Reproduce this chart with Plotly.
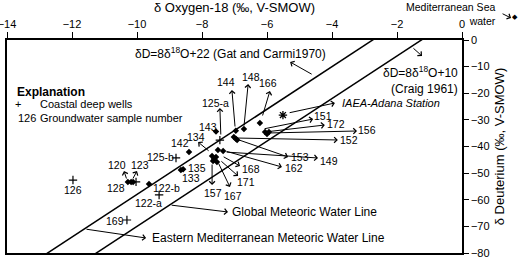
import plotly.graph_objects as go

FONT = "Liberation Sans, Arial, sans-serif"

# ---- data ----
# Groundwater samples (filled diamonds)
gw_d18o = [-7.57, -6.96, -6.71, -6.22, -7.02, -6.95, -6.92, -6.06, -5.94, -6.00,
           -8.40, -7.51, -7.35, -7.69, -7.63, -7.57, -7.66, -7.54, -8.58, -8.65,
           -10.28, -10.18, -10.12, -9.63]
gw_dD = [-34.4, -34.1, -33.4, -31.2, -36.4, -37.2, -37.6, -34.6, -34.6, -35.3,
         -42.1, -41.3, -41.7, -43.6, -44.7, -43.9, -45.4, -45.8, -48.5, -48.8,
         -53.3, -53.3, -53.3, -54.1]
# Coastal deep wells (+)
cw_d18o = [-7.45, -8.80, -11.97, -10.03, -9.32, -10.31]
cw_dD = [-37.6, -44.3, -52.6, -53.3, -58.2, -67.6]
# IAEA-Adana station (*)
iaea_d18o = [-5.51]
iaea_dD = [-28.2]
# Mediterranean Sea water (lies outside the plotted range)
sea_d18o = [1.63]
sea_dD = [8.6]

# Meteoric water lines: dD = slope * d18O + intercept
mwl_slope = 8
gmwl_intercept = 10
emmwl_intercept = 22
line_x = [-14, 0]

X_RANGE = [-14, 0]
Y_RANGE = [-80, 0]
x_ticks = [-14, -12, -10, -8, -6, -4, -2, 0]
y_ticks = [0, -10, -20, -30, -40, -50, -60, -70, -80]

# Sample labels with arrows: label, head x/y, tail x/y, label x/y
arrow_labels = [
    ("144", -7.08, -18.78, -6.98, -33.05, -7.26, -15.77),
    ("148", -6.58, -16.53, -6.71, -32.68, -6.49, -13.90),
    ("166", -5.91, -19.15, -6.15, -28.92, -5.97, -16.15),
    ("125-a", -7.45, -25.54, -7.42, -36.06, -7.57, -23.66),
    ("134", -8.12, -38.31, -7.75, -42.07, -8.18, -36.43),
    ("120", -10.40, -49.20, -10.31, -52.58, -10.62, -46.95),
    ("123", -10.00, -49.20, -10.15, -52.58, -9.91, -46.95),
    ("157", -7.69, -54.46, -7.69, -46.20, -7.66, -57.46),
    ("167", -7.14, -55.21, -7.51, -45.82, -7.05, -58.59),
    ("171", -6.89, -51.08, -7.45, -45.07, -6.65, -53.33),
    ("168", -6.83, -47.32, -7.38, -43.57, -6.49, -48.45),
    ("153", -5.35, -43.94, -6.95, -37.18, -4.98, -43.94),
    ("162", -5.54, -47.70, -7.29, -41.69, -5.17, -48.08),
    ("149", -4.43, -44.32, -7.29, -42.07, -4.09, -45.45),
    ("152", -3.82, -37.56, -6.95, -36.81, -3.48, -37.56),
    ("156", -3.23, -34.18, -5.97, -34.93, -2.92, -33.80),
    ("172", -4.22, -31.92, -6.06, -34.55, -3.88, -31.55),
    ("151", -4.58, -29.67, -6.12, -33.43, -4.28, -28.54),
]
plain_labels = [
    ("143", -7.82, -32.68), ("142", -8.68, -38.69), ("125-b", -9.29, -43.94),
    ("135", -8.15, -48.08), ("133", -8.34, -51.83), ("126", -11.97, -56.34),
    ("128", -10.65, -55.59), ("122-b", -9.08, -55.59), ("122-a", -9.66, -61.22),
    ("169", -10.68, -67.98),
]


def to_paper(x, y):
    return ((x - X_RANGE[0]) / (X_RANGE[1] - X_RANGE[0]),
            (y - Y_RANGE[0]) / (Y_RANGE[1] - Y_RANGE[0]))


fig = go.Figure()
fig.add_trace(go.Scatter(x=line_x, y=[mwl_slope * v + emmwl_intercept for v in line_x],
                         mode="lines", line=dict(color="black", width=1.5), showlegend=False))
fig.add_trace(go.Scatter(x=line_x, y=[mwl_slope * v + gmwl_intercept for v in line_x],
                         mode="lines", line=dict(color="black", width=1.5), showlegend=False))
fig.add_trace(go.Scatter(x=gw_d18o, y=gw_dD, mode="markers",
                         marker=dict(symbol="diamond", size=5, color="black"), showlegend=False))
fig.add_trace(go.Scatter(x=cw_d18o, y=cw_dD, mode="markers",
                         marker=dict(symbol="cross-thin", size=6, color="black",
                                     line=dict(color="black", width=1.2)),
                         showlegend=False))
fig.add_trace(go.Scatter(x=iaea_d18o, y=iaea_dD, mode="markers",
                         marker=dict(symbol="asterisk-open", size=7, color="black",
                                     line=dict(color="black", width=1.3)),
                         showlegend=False))

ann = []
def arrow(hx, hy, tx, ty):
    ann.append(dict(x=hx, y=hy, ax=tx, ay=ty, xref="x", yref="y", axref="x", ayref="y",
                    text="", showarrow=True, arrowhead=4, arrowsize=1.1, arrowwidth=1,
                    arrowcolor="black", standoff=0, startstandoff=0))

def label(txt, x, y, size=10.5, xanchor="center", **kw):
    ann.append(dict(x=x, y=y, xref="x", yref="y", text=txt, showarrow=False,
                    xanchor=xanchor, yanchor="middle", font=dict(family=FONT, size=size, color="black"), **kw))

for name, hx, hy, tx, ty, lx, ly in arrow_labels:
    arrow(hx, hy, tx, ty)
    label(name, lx, ly)
for name, lx, ly in plain_labels:
    label(name, lx, ly)

# IAEA
arrow(-3.91, -23.66, -5.35, -27.42)
ann.append(dict(x=-3.75, y=-23.66, xref="x", yref="y", text="<i>IAEA-Adana Station</i>", showarrow=False,
                xanchor="left", yanchor="middle", font=dict(family=FONT, size=11, color="black")))

# equations and line names
label("δD=8δ<sup>18</sup>O+22 (Gat and Carmi1970)", -7.11, -4.88, size=12)
arrow(-5.29, -8.26, -4.58, -13.15)
label("δD=8δ<sup>18</sup>O+10<br>(Craig 1961)", -0.06, -15.02, size=12, xanchor="right", align="right")
arrow(-1.23, -6.01, -1.54, -2.63)
label("Global Meteoric Water Line", -7.14, -64.60, size=12, xanchor="left")
arrow(-7.20, -64.60, -8.98, -61.97)
label("Eastern Mediterranean Meteoric Water Line", -9.60, -74.37, size=12, xanchor="left")
arrow(-9.72, -74.37, -11.60, -70.99)

# explanation
label("<b>Explanation</b>", -13.75, -19.53, size=12, xanchor="left")
label("+", -13.66, -24.04, size=11)
label("Coastal deep wells", -13.05, -24.04, size=11, xanchor="left")
label("126", -13.72, -29.30, size=11, xanchor="left")
label("Groundwater sample number", -13.05, -29.30, size=11, xanchor="left")

# Mediterranean sea water: outside the axis range, so placed in paper coordinates
for sx, sy in zip(sea_d18o, sea_dD):
    px, py = to_paper(sx, sy)
    ann.append(dict(x=px, y=py, xref="paper", yref="paper", text="◆", showarrow=False,
                    xanchor="center", yanchor="middle",
                    font=dict(family="DejaVu Sans", size=7, color="black")))
mx, my = to_paper(1.11, 9.9)
ann.append(dict(x=mx, y=my, xref="paper", yref="paper", text="Mediterranean Sea<br>water",
                showarrow=False, xanchor="right", yanchor="middle", align="right",
                font=dict(family=FONT, size=10.5, color="black")))
hx, hy = to_paper(1.51, 8.26)
ann.append(dict(x=hx, y=hy, xref="paper", yref="paper", text="", showarrow=True,
                ax=-10, ay=-5, arrowhead=4, arrowsize=1.1, arrowwidth=1, arrowcolor="black",
                standoff=0, startstandoff=0))

fig.update_layout(
    width=520, height=258,
    margin=dict(l=7, r=58, t=40, b=5),
    paper_bgcolor="white", plot_bgcolor="white",
    font=dict(family=FONT, size=11, color="black"),
    annotations=ann,
    xaxis=dict(range=X_RANGE, side="top", tickvals=x_ticks, ticks="outside", ticklen=6,
               tickwidth=1, tickcolor="black", showline=True, mirror=True, linecolor="black",
               linewidth=1.5, showgrid=False, zeroline=False, automargin=False,
               ticklabeloverflow="allow",
               tickfont=dict(family=FONT, size=11),
               title=dict(text="δ Oxygen-18 (‰, V-SMOW)", font=dict(family=FONT, size=13), standoff=4)),
    yaxis=dict(range=Y_RANGE, side="right", tickvals=y_ticks, ticks="outside", ticklen=5,
               tickwidth=1, tickcolor="black", showline=True, mirror=True, linecolor="black",
               linewidth=1.5, showgrid=False, zeroline=False, automargin=False,
               ticklabeloverflow="allow",
               tickfont=dict(family=FONT, size=11),
               title=dict(text="δ Deuterium (‰, V-SMOW)", font=dict(family=FONT, size=13), standoff=6)),
)

fig.write_html("out.html", config={"displayModeBar": False},
               post_script="document.body.style.margin='0';")
